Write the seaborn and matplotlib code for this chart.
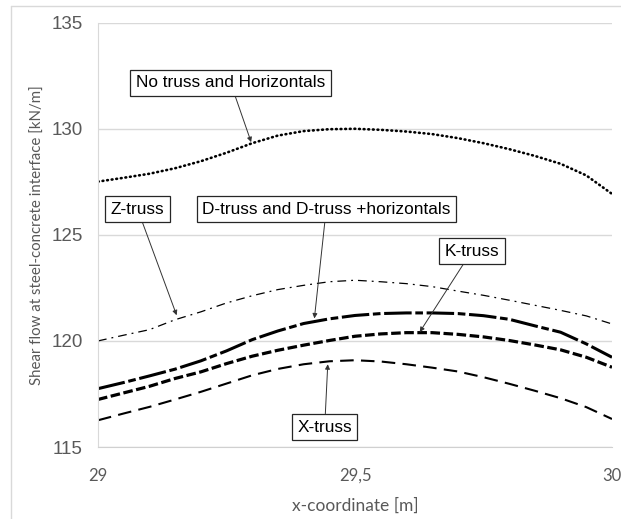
import numpy as np
import pandas as pd
import matplotlib
matplotlib.use("Agg")
import matplotlib.pyplot as plt
import seaborn as sns
from matplotlib.lines import Line2D

# x positions along the beam [m]
x_coord = [29.0, 29.05, 29.1, 29.15, 29.2, 29.25, 29.3, 29.35, 29.4, 29.45, 29.5,
           29.55, 29.6, 29.65, 29.7, 29.75, 29.8, 29.85, 29.9, 29.95, 30.0]

# shear flow values [kN/m]
no_truss = [127.51, 127.69, 127.88, 128.14, 128.47, 128.87, 129.32, 129.68, 129.89, 129.98, 130.0,
            129.95, 129.87, 129.75, 129.56, 129.32, 129.04, 128.72, 128.35, 127.80, 126.93]
z_truss = [120.0, 120.27, 120.53, 121.0, 121.37, 121.79, 122.13, 122.42, 122.62, 122.79, 122.86,
           122.79, 122.70, 122.56, 122.35, 122.15, 121.92, 121.68, 121.44, 121.18, 120.80]
d_truss = [117.75, 118.04, 118.35, 118.67, 119.06, 119.53, 120.06, 120.47, 120.82, 121.04, 121.2,
           121.29, 121.32, 121.32, 121.29, 121.19, 121.02, 120.71, 120.41, 119.86, 119.23]
k_truss = [117.24, 117.55, 117.86, 118.23, 118.54, 118.93, 119.28, 119.56, 119.80, 120.02, 120.22,
           120.33, 120.39, 120.39, 120.31, 120.19, 120.02, 119.81, 119.58, 119.23, 118.76]
x_truss = [116.26, 116.58, 116.89, 117.24, 117.60, 117.99, 118.38, 118.68, 118.90, 119.04, 119.09,
           119.03, 118.90, 118.74, 118.56, 118.29, 117.98, 117.65, 117.30, 116.88, 116.32]

series = ["No truss and Horizontals", "Z-truss", "D-truss and D-truss +horizontals",
          "K-truss", "X-truss"]
values = [no_truss, z_truss, d_truss, k_truss, x_truss]

df = pd.DataFrame({
    "x": np.tile(x_coord, len(series)),
    "v": np.concatenate(values),
    "s": np.repeat(series, len(x_coord)),
})

sns.set_style("white")
plt.rcParams["font.family"] = ["Lato", "DejaVu Sans"]

fig = plt.figure(figsize=(6.21, 5.19), dpi=100)
ax = fig.add_axes([98 / 621, 1 - 447 / 519, 514 / 621, 424.3 / 519])

styles = {
    "No truss and Horizontals": dict(lw=1.9, ls=(0, (0.3, 1.45)), cap="round"),
    "Z-truss": dict(lw=0.9, ls=(0, (7, 4, 1.5, 4))),
    "D-truss and D-truss +horizontals": dict(lw=2.2, ls=(0, (9, 1.2, 2.5, 1.2))),
    "K-truss": dict(lw=2.3, ls=(0, (3, 1.1))),
    "X-truss": dict(lw=1.5, ls=(0, (6.5, 3.5))),
}
for name in series:
    st = styles[name]
    sns.lineplot(data=df[df.s == name], x="x", y="v", ax=ax, color="black",
                 lw=st["lw"], linestyle=st["ls"], legend=False,
                 dash_capstyle=st.get("cap", "butt"))

ax.set_xlim(29, 30)
ax.set_ylim(115, 135)
ax.set_xticks([29, 29.5, 30])
ax.set_xticklabels(["29", "29,5", "30"])
ax.set_yticks([115, 120, 125, 130, 135])
ax.yaxis.grid(True, color="#d9d9d9", lw=1)
ax.xaxis.grid(False)
ax.tick_params(axis="both", length=0, colors="#595959")
ax.tick_params(axis="x", labelsize=12, pad=15)
ax.tick_params(axis="y", labelsize=13.5, pad=11)
for lab in ax.get_yticklabels():
    lab.set_family(["Liberation Sans", "DejaVu Sans"])
for sp in ["top", "right"]:
    ax.spines[sp].set_visible(False)
ax.spines["left"].set_color("#d9d9d9")
ax.spines["bottom"].set_color("#d0d0d0")
ax.set_xlabel("x-coordinate [m]", fontsize=12.5, color="#595959", labelpad=10)
ax.set_ylabel("Shear flow at steel-concrete interface [kN/m]", fontsize=10.8,
              color="#595959", labelpad=5)

# annotation boxes: (text, box centre, arrow target)
notes = [
    ("No truss and Horizontals", (29.258, 132.16), (29.298, 129.37)),
    ("Z-truss", (29.077, 126.21), (29.153, 121.21)),
    ("D-truss and D-truss +horizontals", (29.444, 126.21), (29.421, 121.06)),
    ("K-truss", (29.727, 124.23), (29.626, 120.42)),
    ("X-truss", (29.441, 115.93), (29.447, 118.9)),
]
for txt, pos, tgt in notes:
    ax.annotate(txt, xy=tgt, xytext=pos, fontsize=12.4, ha="center", va="center",
                family=["Liberation Sans", "DejaVu Sans"], color="black",
                bbox=dict(boxstyle="square,pad=0.32", fc="white", ec="#262626", lw=0.9),
                arrowprops=dict(arrowstyle="-|>", color="#333333", lw=0.7,
                                mutation_scale=7, shrinkA=0, shrinkB=0))

# chart area border
fig.add_artist(Line2D([11 / 621, 11 / 621], [0, 1 - 6 / 519], transform=fig.transFigure,
                      color="#d9d9d9", lw=1))
fig.add_artist(Line2D([11 / 621, 1], [1 - 6 / 519, 1 - 6 / 519], transform=fig.transFigure,
                      color="#d9d9d9", lw=1))

fig.savefig("out.png", dpi=100)
